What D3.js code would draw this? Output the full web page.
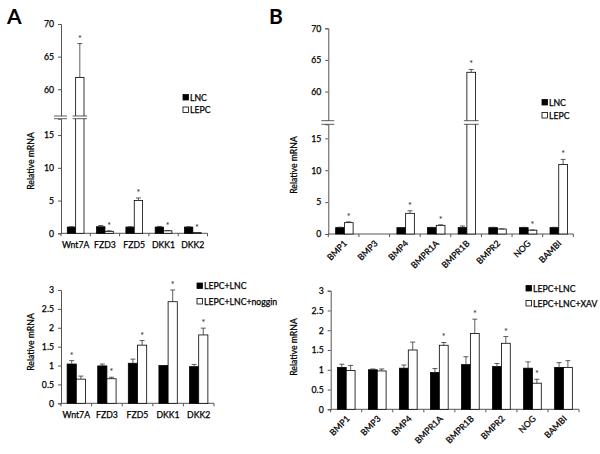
<!DOCTYPE html>
<html><head><meta charset="utf-8">
<script src="https://cdn.jsdelivr.net/npm/d3@7"></script>
<style>
body{margin:0;background:#fff;}
text{font-family:Lato,sans-serif;}
text.t{stroke:#000;stroke-width:0.25px;}
</style></head>
<body><svg id="c" width="600" height="454"></svg>
<script>
// ---------- DATA ----------
const genesA = ["Wnt7A","FZD3","FZD5","DKK1","DKK2"];
const genesB = ["BMP1","BMP3","BMP4","BMPR1A","BMPR1B","BMPR2","NOG","BAMBI"];

// Panel A top
const lncA = [0.95,1.0,0.95,0.95,0.95];
const lncAErr = [0.05,0.18,0.05,0.1,0.05];
const lepcA = [61.8,0.3,5.0,0.38,0.1];
const lepcAErr = [5.2,0.08,0.4,0.04,0.02];
const sigA = [1,1,1,1,1];

// Panel B top
const lncB = [1.0,0,1.0,1.0,1.0,1.0,1.0,1.0];
const lncBErr = [0.06,0,0.02,0.05,0.25,0.05,0.05,0.05];
const lepcB = [1.78,0,3.24,1.36,63.05,0.78,0.6,10.9];
const lepcBErr = [0.12,0,0.4,0.08,0.45,0.03,0.03,0.8];
const sigB = [1,0,1,1,1,0,1,1];

// Panel A bottom
const ctrlNog = [1.04,0.99,1.06,1.0,0.97];
const ctrlNogErr = [0.09,0.05,0.11,0,0.06];
const nog = [0.64,0.65,1.54,2.69,1.81];
const nogErr = [0.08,0.04,0.12,0.31,0.18];
const sigCtrlNog = [1,0,0,0,0];
const sigNog = [0,1,1,1,1];

// Panel B bottom
const ctrlXav = [1.06,1.0,1.04,0.93,1.13,1.08,1.04,1.06];
const ctrlXavErr = [0.08,0.02,0.08,0.1,0.2,0.08,0.16,0.12];
const xav = [0.98,0.97,1.5,1.62,1.92,1.67,0.66,1.06];
const xavErr = [0.13,0.05,0.2,0.07,0.36,0.17,0.1,0.17];
const sigXav = [0,0,0,1,1,1,1,0];

const yTicksLower = [0,5,10,15];
const yTicksUpper = [60,65,70];
const yTicksSmall = [0,0.5,1,1.5,2,2.5,3];

// ---------- DRAW ----------
const svg = d3.select("#c");
const AX = "#555";
const FS = 8.7;
const FW = "normal";
const FF = "Lato,sans-serif";

function fmt(v){ return String(v); }

function drawPanel(o){
  const g = svg.append("g");
  const x = d3.scaleBand().domain(o.genes).range([o.x0,o.x1]);
  const bw = x.bandwidth();
  const xs = d3.scaleBand().domain([0,1]).range([bw*o.inner[0], bw*o.inner[1]]);
  let yFn;
  if(o.broken){
    const yL = d3.scaleLinear().domain(o.lowerDom).range(o.lowerRange);
    const yU = d3.scaleLinear().domain(o.upperDom).range(o.upperRange);
    yFn = v => v <= o.lowerDom[1] ? yL(v) : yU(v);
    g.append("g").attr("transform",`translate(${o.x0},0)`)
      .call(d3.axisLeft(yL).tickValues(yTicksLower).tickSize(3).tickPadding(4).tickFormat(fmt));
    g.append("g").attr("transform",`translate(${o.x0},0)`)
      .call(d3.axisLeft(yU).tickValues(yTicksUpper).tickSize(3).tickPadding(4).tickFormat(fmt));
  } else {
    const y = d3.scaleLinear().domain(o.dom).range(o.range);
    yFn = y;
    g.append("g").attr("transform",`translate(${o.x0},0)`)
      .call(d3.axisLeft(y).tickValues(yTicksSmall).tickSize(3).tickPadding(4).tickFormat(fmt));
  }
  const y0 = yFn(0);
  const xa = g.append("g").attr("transform",`translate(0,${y0})`);
  xa.append("line").attr("x1",o.x0).attr("x2",o.x1).attr("stroke",AX);
  const bounds = o.genes.map(d=>x(d)).concat([o.x1]);
  xa.selectAll("line.t").data(bounds).enter().append("line")
    .attr("x1",d=>d).attr("x2",d=>d).attr("y1",0).attr("y2",3).attr("stroke",AX);
  const lab = xa.selectAll("text.l").data(o.genes).enter().append("text").attr("class","t")
    .attr("font-size",FS).attr("font-weight",FW).attr("fill","#000").text(d=>d);
  if(o.rotate){
    lab.attr("text-anchor","end")
      .attr("transform",d=>`translate(${x(d)+bw/2+4},${10}) rotate(-45)`);
  } else {
    lab.attr("text-anchor","middle").attr("x",d=>x(d)+bw/2).attr("y",15);
  }
  g.selectAll(".domain").attr("stroke",AX);
  g.selectAll(".tick line").attr("stroke",AX);
  g.selectAll(".tick text").attr("class","t").attr("font-size",FS).attr("font-weight",FW).attr("fill","#000")
    .attr("font-family",FF);

  const series = [
    {v:o.s0, e:o.e0, s:o.sig0, fill:"#000"},
    {v:o.s1, e:o.e1, s:o.sig1, fill:"#fff"}
  ];
  series.forEach((ser,si)=>{
    o.genes.forEach((gname,i)=>{
      const v = ser.v[i];
      if(v<=0) return;
      const bx = x(gname)+xs(si);
      const w = xs.bandwidth();
      g.append("rect").attr("x",bx).attr("width",w)
        .attr("y",yFn(v)).attr("height",y0-yFn(v))
        .attr("fill",ser.fill).attr("stroke","#000").attr("stroke-width",0.8);
      const top = ser.e[i]>0 ? yFn(v+ser.e[i]) : yFn(v);
      if(ser.e[i]>0){
        const cx = bx+w/2;
        g.append("line").attr("x1",cx).attr("x2",cx).attr("y1",yFn(v)).attr("y2",top)
          .attr("stroke","#333").attr("stroke-width",0.8);
        g.append("line").attr("x1",cx-2.5).attr("x2",cx+2.5).attr("y1",top).attr("y2",top)
          .attr("stroke","#333").attr("stroke-width",0.8);
      }
      if(ser.s[i]){
        g.append("text").attr("x",bx+w/2).attr("y",top-2).attr("text-anchor","middle")
          .attr("font-size",9).attr("fill","#222").text("*");
      }
      if(o.broken && v>o.lowerDom[1]){
        const ya = o.upperRange[0], yb = o.lowerRange[1];
        g.append("rect").attr("x",bx-3).attr("width",w+6).attr("y",ya).attr("height",yb-ya).attr("fill","#fff");
        [ya,yb].forEach(yy=>g.append("line").attr("x1",bx-3).attr("x2",bx+w+3).attr("y1",yy).attr("y2",yy)
          .attr("stroke","#333").attr("stroke-width",0.8));
      }
    });
  });
  if(o.broken){
    const ya = o.upperRange[0], yb = o.lowerRange[1];
    g.append("rect").attr("x",o.x0-7).attr("width",14).attr("y",ya).attr("height",yb-ya).attr("fill","#fff");
    [ya,yb].forEach(yy=>g.append("line").attr("x1",o.x0-7).attr("x2",o.x0+6).attr("y1",yy).attr("y2",yy)
      .attr("stroke","#333").attr("stroke-width",0.8));
  }
  g.append("text").attr("class","t").attr("transform",`translate(${o.titleX},${o.titleY}) rotate(-90)`)
    .attr("text-anchor","middle").attr("font-size",FS).attr("font-weight",FW).attr("fill","#000")
    .text("Relative mRNA");
  o.legend.forEach((t,i)=>{
    const ly = o.legY + i*o.legStep;
    g.append("rect").attr("x",o.legX).attr("y",ly-5.5).attr("width",5.5).attr("height",5.5)
      .attr("fill",i===0?"#000":"#fff").attr("stroke","#000").attr("stroke-width",0.8);
    g.append("text").attr("class","t").attr("x",o.legX+7).attr("y",ly+0.5).attr("font-size",FS).attr("font-weight",FW)
      .attr("fill","#000").text(t);
  });
}

drawPanel({genes:genesA, x0:61, x1:207.5, inner:[0.215,0.785], broken:true,
  lowerDom:[0,17.5], lowerRange:[233.3,118.7], upperDom:[55.9,70], upperRange:[116,24],
  s0:lncA, e0:lncAErr, sig0:[0,0,0,0,0], s1:lepcA, e1:lepcAErr, sig1:sigA,
  titleX:34, titleY:161, legend:["LNC","LEPC"], legX:183, legY:100, legStep:12.5});

drawPanel({genes:genesB, x0:328.3, x1:573.3, inner:[0.24,0.81], broken:true, rotate:true,
  lowerDom:[0,17.2], lowerRange:[234,124.3], upperDom:[55.4,70], upperRange:[120.7,28.3],
  s0:lncB, e0:lncBErr, sig0:[0,0,0,0,0,0,0,0], s1:lepcB, e1:lepcBErr, sig1:sigB,
  titleX:297, titleY:165, legend:["LNC","LEPC"], legX:542, legY:105, legStep:13});

drawPanel({genes:genesA, x0:61, x1:214, inner:[0.2,0.8], dom:[0,3], range:[403.3,290],
  s0:ctrlNog, e0:ctrlNogErr, sig0:sigCtrlNog, s1:nog, e1:nogErr, sig1:sigNog,
  titleX:34, titleY:342, legend:["LEPC+LNC","LEPC+LNC+noggin"], legX:197, legY:288.5, legStep:15.5});

drawPanel({genes:genesB, x0:330.7, x1:579, inner:[0.215,0.785], rotate:true, dom:[0,3], range:[409.3,290.7],
  s0:ctrlXav, e0:ctrlXavErr, sig0:[0,0,0,0,0,0,0,0], s1:xav, e1:xavErr, sig1:sigXav,
  titleX:297, titleY:347, legend:["LEPC+LNC","LEPC+LNC+XAV"], legX:526, legY:291, legStep:15});

svg.append("text").attr("x",7).attr("y",24).attr("font-size",21).attr("font-weight","bold")
  .attr("font-family","'Liberation Sans',Arial,sans-serif").text("A");
svg.append("text").attr("x",269).attr("y",24).attr("font-size",21).attr("font-weight","bold")
  .attr("font-family","'Liberation Sans',Arial,sans-serif").text("B");
</script></body></html>
